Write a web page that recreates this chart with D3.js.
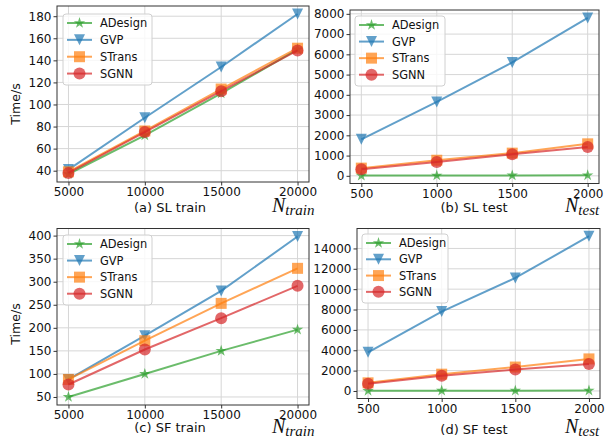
<!DOCTYPE html>
<html>
<head>
<meta charset="utf-8">
<script src="https://cdn.jsdelivr.net/npm/d3@7"></script>
<style>
  body { margin: 0; background: #fff; }
  svg { display: block; font-family: "DejaVu Sans", sans-serif; }
</style>
</head>
<body>
<svg id="chart" width="605" height="440"></svg>
<script>
// methods, in legend / drawing order
const methods = ['ADesign', 'GVP', 'STrans', 'SGNN'];
const colors = ['#2ca02c', '#1f77b4', '#ff7f0e', '#d62728'];
const markers = ['star', 'triangleDown', 'square', 'circle'];

const nTrain = [5000, 10000, 15000, 20000];
const nTest = [500, 1000, 1500, 2000];

// one row per method (ADesign, GVP, STrans, SGNN)
const slTrain = [[37, 72, 110, 150], [41, 88, 134, 182], [39, 76, 114, 151], [38, 75, 112, 149]];
const slTest = [[10, 15, 20, 25], [1800, 3650, 5600, 7800], [380, 770, 1120, 1580], [330, 680, 1060, 1420]];
const sfTrain = [[50, 100, 150, 196], [88, 183, 280, 398], [88, 172, 253, 329], [77, 153, 221, 291]];
const sfTest = [[20, 25, 30, 40], [3800, 7800, 11100, 15200], [800, 1650, 2350, 3150], [720, 1500, 2100, 2650]];

const ticksSLTrain = [40, 60, 80, 100, 120, 140, 160, 180];
const ticksSLTest = [0, 1000, 2000, 3000, 4000, 5000, 6000, 7000, 8000];
const ticksSFTrain = [50, 100, 150, 200, 250, 300, 350, 400];
const ticksSFTest = [0, 2000, 4000, 6000, 8000, 10000, 12000, 14000];

const panels = [
  { values: slTrain, xs: nTrain, yTicks: ticksSLTrain, box: { l: 57, r: 309, t: 6, b: 182 },
    label: '(a) SL train', labelX: 170, labelY: 212, sub: 'train', nX: 272, nY: 212,
    ylabel: { x: 20, y: 104 }, legend: { x: 63, y: 14, w: 89, h: 71 } },
  { values: slTest, xs: nTest, yTicks: ticksSLTest, box: { l: 350, r: 599, t: 10, b: 183.5 },
    label: '(b) SL test', labelX: 474, labelY: 212, sub: 'test', nX: 565, nY: 212,
    ylabel: null, legend: { x: 355, y: 16, w: 90, h: 70 } },
  { values: sfTrain, xs: nTrain, yTicks: ticksSFTrain, box: { l: 57, r: 309, t: 228.5, b: 405 },
    label: '(c) SF train', labelX: 170, labelY: 432, sub: 'train', nX: 272, nY: 433,
    ylabel: { x: 20, y: 324 }, legend: { x: 63, y: 235, w: 89, h: 70 } },
  { values: sfTest, xs: nTest, yTicks: ticksSFTest, box: { l: 357, r: 600, t: 228.5, b: 398.5 },
    label: '(d) SF test', labelX: 474, labelY: 434, sub: 'test', nX: 565, nY: 433,
    ylabel: null, legend: { x: 362, y: 234, w: 86, h: 69 } }
];

function pad(ext) {
  const m = (ext[1] - ext[0]) * 0.05;
  return [ext[0] - m, ext[1] + m];
}

function markerPath(type, s) {
  const r = s / 2;
  if (type === 'circle') return d3.symbol(d3.symbolCircle, Math.PI * r * r)();
  if (type === 'square') return `M${-r},${-r}H${r}V${r}H${-r}Z`;
  if (type === 'triangleDown') return `M0,${r}L${-r},${-r}L${r},${-r}Z`;
  // five point star
  const pts = [];
  for (let i = 0; i < 10; i++) {
    const rad = i % 2 === 0 ? r : r * 0.382;
    const a = -Math.PI / 2 + i * Math.PI / 5;
    pts.push([rad * Math.cos(a), rad * Math.sin(a)]);
  }
  return 'M' + pts.map(p => p.join(',')).join('L') + 'Z';
}
const markerSize = { star: 12, triangleDown: 11, square: 11, circle: 12 };

const svg = d3.select('#chart');

panels.forEach(p => {
  const b = p.box;
  const g = svg.append('g');

  const x = d3.scaleLinear().domain(pad(d3.extent(p.xs))).range([b.l, b.r]);
  const y = d3.scaleLinear().domain(pad(d3.extent(p.values.flat()))).range([b.b, b.t]);

  // grid
  g.append('g').selectAll('line').data(p.xs).join('line')
    .attr('x1', d => x(d)).attr('x2', d => x(d))
    .attr('y1', b.t).attr('y2', b.b)
    .attr('stroke', '#d6d6d6').attr('stroke-width', 1);
  g.append('g').selectAll('line').data(p.yTicks).join('line')
    .attr('y1', d => y(d)).attr('y2', d => y(d))
    .attr('x1', b.l).attr('x2', b.r)
    .attr('stroke', '#d6d6d6').attr('stroke-width', 1);

  // axes
  const fmt = d3.format('d');
  const xa = g.append('g').attr('transform', `translate(0,${b.b})`)
    .call(d3.axisBottom(x).tickValues(p.xs).tickFormat(fmt).tickSize(3.5).tickPadding(2).tickSizeOuter(0));
  const ya = g.append('g').attr('transform', `translate(${b.l},0)`)
    .call(d3.axisLeft(y).tickValues(p.yTicks).tickFormat(fmt).tickSize(3.5).tickPadding(2).tickSizeOuter(0));
  [xa, ya].forEach(a => {
    a.select('.domain').remove();
    a.selectAll('text').attr('font-size', 12).attr('font-family', 'DejaVu Sans').attr('fill', '#111');
    a.selectAll('line').attr('stroke', '#333');
  });

  // lines and markers
  const line = d3.line().x((d, i) => x(p.xs[i])).y(d => y(d));
  p.values.forEach((vals, k) => {
    g.append('path').datum(vals)
      .attr('d', line)
      .attr('fill', 'none')
      .attr('stroke', colors[k])
      .attr('stroke-width', 2)
      .attr('stroke-opacity', 0.7);
    g.append('g').selectAll('path').data(vals).join('path')
      .attr('transform', (d, i) => `translate(${x(p.xs[i])},${y(d)})`)
      .attr('d', markerPath(markers[k], markerSize[markers[k]]))
      .attr('fill', colors[k])
      .attr('opacity', 0.7);
  });

  // frame
  g.append('rect')
    .attr('x', b.l).attr('y', b.t)
    .attr('width', b.r - b.l).attr('height', b.b - b.t)
    .attr('fill', 'none').attr('stroke', '#333').attr('stroke-width', 1);

  // legend
  const L = p.legend;
  const lg = g.append('g').attr('transform', `translate(${L.x},${L.y})`);
  lg.append('rect')
    .attr('width', L.w).attr('height', L.h).attr('rx', 3)
    .attr('fill', '#fff').attr('fill-opacity', 0.8)
    .attr('stroke', '#d0d0d0');
  const rowH = (L.h - 12) / 3.5;
  methods.forEach((m, k) => {
    const ry = 9 + k * rowH;
    lg.append('line')
      .attr('x1', 4).attr('x2', 29).attr('y1', ry).attr('y2', ry)
      .attr('stroke', colors[k]).attr('stroke-width', 2).attr('stroke-opacity', 0.7);
    lg.append('path')
      .attr('transform', `translate(16.5,${ry})`)
      .attr('d', markerPath(markers[k], markerSize[markers[k]]))
      .attr('fill', colors[k]).attr('opacity', 0.7);
    lg.append('text')
      .attr('x', 37).attr('y', ry).attr('dy', '0.36em')
      .attr('font-size', 11.4).attr('fill', '#111')
      .text(m);
  });

  // labels
  g.append('text')
    .attr('x', p.labelX).attr('y', p.labelY)
    .attr('text-anchor', 'middle').attr('font-size', 13).attr('fill', '#111')
    .text(p.label);

  const nt = g.append('text')
    .attr('x', p.nX).attr('y', p.nY)
    .attr('font-family', '"Liberation Serif", serif').attr('font-style', 'italic')
    .attr('font-size', 20).attr('fill', '#111')
    .text('N');
  nt.append('tspan').attr('dy', 3).attr('font-size', 15).text(p.sub);

  if (p.ylabel) {
    g.append('text')
      .attr('transform', `translate(${p.ylabel.x},${p.ylabel.y}) rotate(-90)`)
      .attr('text-anchor', 'middle').attr('font-size', 12.5).attr('fill', '#111')
      .text('Time/s');
  }
});
</script>
</body>
</html>
